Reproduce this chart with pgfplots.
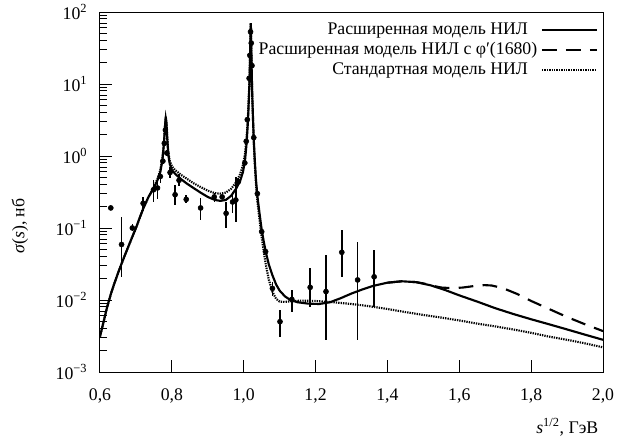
\documentclass[border=0pt]{standalone}
\usepackage{fontspec}
\setmainfont{Liberation Serif}
\usepackage{pgfplots}
\usepackage{pgfplotstable}
\pgfplotsset{compat=1.18}

\pgfplotstableread{
x y
0.600 0.0031
0.610 0.0050
0.620 0.0080
0.630 0.0120
0.640 0.0170
0.650 0.0235
0.660 0.032
0.680 0.057
0.700 0.100
0.720 0.185
0.735 0.27
0.750 0.36
0.760 0.46
0.768 0.60
0.774 0.90
0.778 1.5
0.781 2.6
0.783 3.5
0.785 2.9
0.787 1.8
0.790 1.05
0.794 0.78
0.800 0.64
0.810 0.56
0.825 0.48
0.840 0.42
0.860 0.36
0.880 0.31
0.900 0.27
0.920 0.245
0.935 0.238
0.950 0.245
0.965 0.28
0.980 0.36
0.990 0.45
0.998 0.60
1.004 0.90
1.008 1.5
1.011 2.6
1.013 4.2
1.015 7.5
1.0165 13
1.0175 22
1.0185 40
1.0192 62
1.0196 70
1.0200 64
1.0207 42
1.0215 24
1.0225 13
1.024 6.5
1.026 3.2
1.028 1.7
1.031 0.85
1.034 0.48
1.038 0.28
1.044 0.16
1.050 0.095
1.056 0.064
1.062 0.045
1.070 0.031
1.080 0.022
1.090 0.0165
1.100 0.0135
1.115 0.0112
1.130 0.0100
1.150 0.0093
1.180 0.0089
1.210 0.0088
1.240 0.0093
1.270 0.0106
1.300 0.0123
1.330 0.0140
1.360 0.0157
1.400 0.0174
1.440 0.0182
1.480 0.0177
1.520 0.0160
1.560 0.0138
1.600 0.0116
1.650 0.0095
1.700 0.0077
1.750 0.0064
1.800 0.0054
1.850 0.0046
1.900 0.0039
1.950 0.0033
2.000 0.0028
}\extended

\pgfplotstableread{
x y
1.400 0.0174
1.440 0.0182
1.480 0.0177
1.500 0.0170
1.525 0.0158
1.550 0.0149
1.580 0.0146
1.610 0.0149
1.640 0.0156
1.670 0.0161
1.690 0.0159
1.720 0.0147
1.760 0.0122
1.800 0.0097
1.850 0.0075
1.900 0.0058
1.950 0.0046
2.000 0.0037
}\extendedphi

\pgfplotstableread{
x y
0.600 0.0031
0.610 0.0050
0.620 0.0080
0.630 0.0120
0.640 0.0170
0.650 0.0235
0.660 0.032
0.680 0.057
0.700 0.100
0.720 0.185
0.735 0.27
0.750 0.37
0.760 0.48
0.768 0.64
0.774 0.95
0.778 1.55
0.781 2.6
0.783 3.3
0.785 2.8
0.787 1.9
0.790 1.15
0.794 0.86
0.800 0.72
0.810 0.63
0.825 0.55
0.840 0.49
0.860 0.42
0.880 0.37
0.900 0.33
0.920 0.305
0.935 0.30
0.950 0.31
0.965 0.35
0.980 0.44
0.990 0.56
0.998 0.75
1.004 1.1
1.008 1.8
1.011 3.0
1.013 4.8
1.015 8.5
1.0165 14
1.0175 24
1.0185 42
1.0192 63
1.0196 70
1.0200 64
1.0207 42
1.0215 23
1.0225 12
1.024 6
1.026 3.0
1.028 1.5
1.031 0.75
1.034 0.42
1.038 0.24
1.044 0.13
1.050 0.075
1.056 0.046
1.062 0.030
1.070 0.019
1.080 0.0130
1.090 0.0104
1.100 0.0095
1.115 0.0094
1.130 0.0096
1.160 0.0098
1.200 0.0097
1.250 0.0093
1.300 0.0088
1.350 0.0082
1.400 0.0075
1.450 0.0068
1.500 0.0062
1.550 0.0057
1.600 0.0052
1.650 0.0047
1.700 0.0043
1.750 0.0039
1.800 0.0035
1.850 0.0031
1.900 0.0028
1.950 0.0025
2.000 0.0022
}\standard

\pgfplotstableread{
x y lo hi
0.630 0.19 0.19 0.19
0.660 0.059 0.021 0.14
0.690 0.100 0.090 0.115
0.720 0.22 0.17 0.27
0.749 0.34 0.23 0.46
0.760 0.36 0.25 0.50
0.768 0.52 0.42 0.62
0.775 0.85 0.78 0.92
0.779 1.5 1.4 1.6
0.782 2.3 2.15 2.45
0.786 1.1 1.0 1.2
0.795 0.59 0.50 0.70
0.809 0.29 0.21 0.39
0.820 0.46 0.38 0.56
0.840 0.25 0.22 0.29
0.880 0.19 0.13 0.26
0.918 0.27 0.23 0.31
0.940 0.27 0.25 0.29
0.951 0.16 0.10 0.23
0.969 0.23 0.16 0.32
0.978 0.245 0.12 0.51
0.985 0.44 0.38 0.50
1.003 0.80 0.75 0.85
1.007 1.6 1.5 1.7
1.010 3.2 3.0 3.4
1.015 12 11.5 12.5
1.017 25 24 26
1.019 53 51 55
1.021 37 35 39
1.023 18 17 19
1.028 1.8 1.7 1.9
1.038 0.30 0.28 0.32
1.050 0.089 0.082 0.096
1.061 0.047 0.043 0.052
1.080 0.0145 0.0113 0.0178
1.101 0.0050 0.0031 0.0072
1.134 0.0102 0.0068 0.0138
1.185 0.0150 0.0081 0.0278
1.229 0.0131 0.0028 0.042
1.273 0.046 0.021 0.095
1.317 0.019 0.0028 0.064
1.363 0.021 0.0081 0.049
}\measured

\begin{document}
\begin{tikzpicture}
\begin{axis}[
  scale only axis,
  width=377.25pt, height=270pt,
  font=\fontsize{13.3}{15}\selectfont,
  xmin=0.6, xmax=2.0,
  ymode=log, ymin=1e-3, ymax=1e2,
  xtick={0.6,0.8,1.0,1.2,1.4,1.6,1.8,2.0},
  ytick={1e-3,1e-2,1e-1,1e0,1e1,1e2},
  yticklabels={10\textsuperscript{−3},10\textsuperscript{−2},10\textsuperscript{−1},10\textsuperscript{0},10\textsuperscript{1},10\textsuperscript{2}},
  /pgf/number format/assume math mode=true,
  /pgf/number format/use comma,
  /pgf/number format/fixed,
  /pgf/number format/fixed zerofill,
  /pgf/number format/precision=1,
  xticklabel={\pgfmathprintnumber{\tick}},
  tick align=inside,
  tick pos=left,
  major tick length=9pt,
  minor tick length=5pt,
  every tick/.style={black, line width=0.75pt},
  axis line style={black, line width=0.75pt},
  xticklabel style={yshift=-9pt},
  yticklabel style={xshift=-6pt},
  xlabel={\textit{s}\textsuperscript{1/2}, ГэВ},
  xlabel style={at={(rel axis cs:1,0)}, anchor=base east, yshift=-45.75pt},
  ylabel={\textit{σ}(\textit{s}), нб},
  ylabel style={at={([xshift=-60pt]rel axis cs:0,0.405)}, anchor=center, rotate=0},
  legend plot pos=right,
  legend cell align=right,
  legend image code/.code={\path (-1.5pt,0pt); \draw[#1] (0pt,0pt) -- (41pt,0pt);},
  legend style={draw=none, fill=none, at={(rel axis cs:1,1)}, anchor=north east,
    xshift=-3.75pt, yshift=-6pt, inner sep=0pt, row sep=0pt,
    font=\fontsize{13.3}{15}\selectfont,
    nodes={inner sep=1.25pt, text height=9.5pt, text depth=3pt}},
]
\coordinate (sw) at (rel axis cs:0,0);
\coordinate (ne) at (rel axis cs:1,1);
\addplot[black, only marks, mark=*, mark size=1.9pt, forget plot,
  error bars/.cd, y dir=both, y explicit, error mark=none,
  error bar style={line width=1.1pt, black}]
  table[x=x, y=y, y error plus expr=\thisrow{hi}-\thisrow{y}, y error minus expr=\thisrow{y}-\thisrow{lo}] {\measured};
\addplot[black, line width=1.6pt] table[x=x,y=y] {\extended};
\addlegendentry{Расширенная модель НИЛ\hspace*{7pt}}
\addplot[black, line width=1.6pt, dash pattern=on 11pt off 7pt] table[x=x,y=y] {\extendedphi};
\addlegendentry{Расширенная модель НИЛ с φ′(1680)}
\addplot[black, line width=1.6pt, dash pattern=on 1pt off 0.8pt] table[x=x,y=y] {\standard};
\addlegendentry{Стандартная модель НИЛ\hspace*{7pt}}
\end{axis}
\pgfresetboundingbox
\path ([xshift=-75pt,yshift=-50.25pt]sw) rectangle ([xshift=30pt,yshift=9pt]ne);
\end{tikzpicture}
\end{document}
